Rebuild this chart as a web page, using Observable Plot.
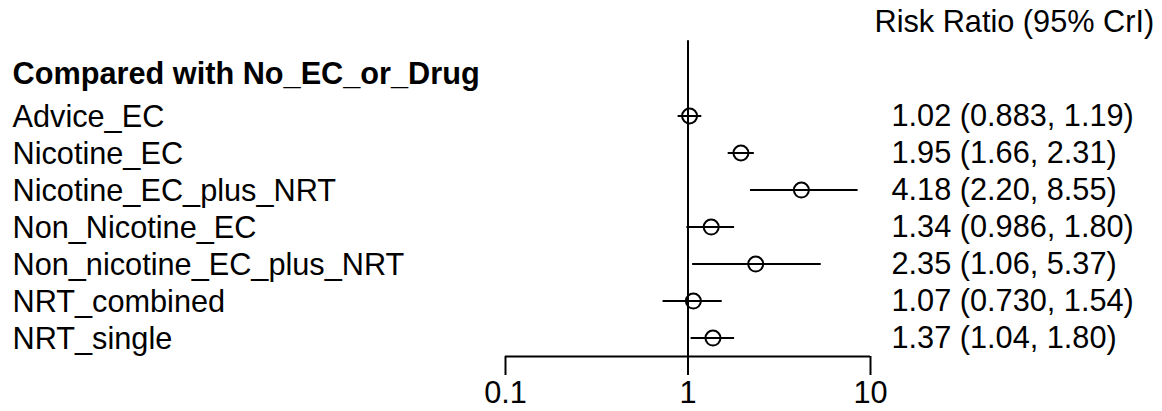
<!DOCTYPE html>
<html><head><meta charset="utf-8">
<script src="https://cdn.jsdelivr.net/npm/d3@7"></script>
<script src="https://cdn.jsdelivr.net/npm/@observablehq/plot@0.6"></script>
<style>
html,body{margin:0;padding:0;background:#fff;}
svg{font-family:"Liberation Sans",Arial,sans-serif;}
</style>
</head><body>
<div id="chart"></div>
<script>
const treatments = ["Advice_EC","Nicotine_EC","Nicotine_EC_plus_NRT","Non_Nicotine_EC","Non_nicotine_EC_plus_NRT","NRT_combined","NRT_single"];
const estimate = [1.02, 1.95, 4.18, 1.34, 2.35, 1.07, 1.37];
const lower = [0.883, 1.66, 2.20, 0.986, 1.06, 0.730, 1.04];
const upper = [1.19, 2.31, 8.55, 1.80, 5.37, 1.54, 1.80];
const estLabels = ["1.02","1.95","4.18","1.34","2.35","1.07","1.37"];
const lowLabels = ["0.883","1.66","2.20","0.986","1.06","0.730","1.04"];
const upLabels = ["1.19","2.31","8.55","1.80","5.37","1.54","1.80"];
const xTicks = [0.1, 1, 10];
const groupTitle = "Compared with No_EC_or_Drug";
const columnTitle = "Risk Ratio (95% CrI)";

const rows = treatments.map((t, i) => ({
  name: t, i, est: estimate[i], lo: lower[i], hi: upper[i],
  label: `${estLabels[i]} (${lowLabels[i]}, ${upLabels[i]})`
}));

// layout (row index units)
const headerRow = -1.13, titleRow = -2.53, lineTop = -2.03, axisRow = 6.5;
const fs = 30.7;

const chart = Plot.plot({
  width: 1162, height: 411,
  marginLeft: 505, marginRight: 292, marginTop: 0, marginBottom: 55,
  x: {type: "log", domain: [0.1, 10]},
  y: {domain: [0, 6], range: [115.5, 337.6], axis: null},
  style: {fontFamily: '"Liberation Sans", Arial, sans-serif', fontSize: fs + "px", color: "#000", background: "#fff"},
  marks: [
    Plot.ruleX([1], {y1: lineTop, y2: axisRow, stroke: "#000", strokeWidth: 2}),
    Plot.ruleY([axisRow], {x1: xTicks[0], x2: xTicks[xTicks.length-1], stroke: "#000", strokeWidth: 2}),
    Plot.axisX(xTicks, {tickSize: 19, tickPadding: 6, strokeWidth: 2, fontSize: fs, tickFormat: d => String(d), color: "#000"}),
    Plot.ruleY(rows, {y: "i", x1: "lo", x2: "hi", stroke: "#000", strokeWidth: 2}),
    Plot.dot(rows, {x: "est", y: "i", r: 7.5, stroke: "#000", strokeWidth: 2, fill: "none"}),
    Plot.text(rows, {y: "i", text: "name", frameAnchor: "left", dx: -493, dy: 1, textAnchor: "start", fontSize: fs, fill: "#000"}),
    Plot.text(rows, {y: "i", text: "label", frameAnchor: "right", dx: 21, textAnchor: "start", fontSize: fs, fill: "#000"}),
    Plot.text([groupTitle], {y: headerRow, text: d => d, frameAnchor: "left", dx: -493, textAnchor: "start", fontSize: fs, fontWeight: "bold", fill: "#000"}),
    Plot.text([columnTitle], {y: titleRow, text: d => d, frameAnchor: "right", dx: 4, textAnchor: "start", fontSize: fs, fill: "#000"})
  ]
});
document.getElementById("chart").appendChild(chart);
</script>
</body></html>
